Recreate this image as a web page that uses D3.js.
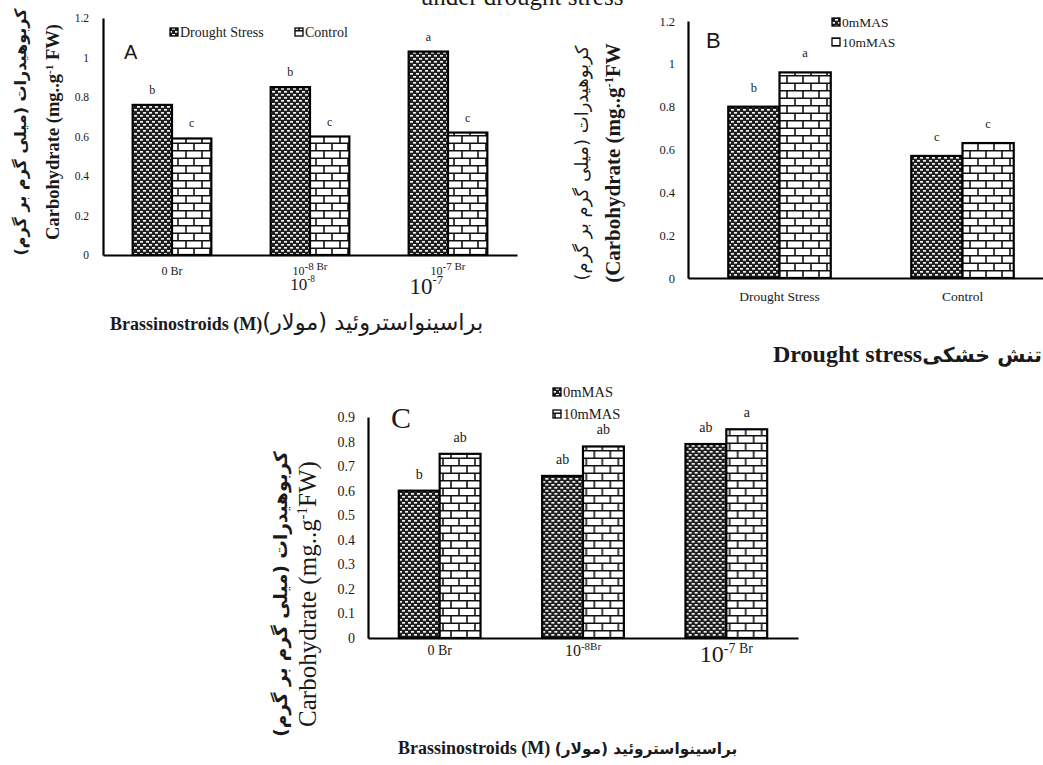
<!DOCTYPE html>
<html>
<head>
<meta charset="utf-8">
<script src="https://cdn.jsdelivr.net/npm/d3@7"></script>
<style>
  body { margin: 0; background: #fff; }
  svg text { font-family: "Liberation Serif", "DejaVu Sans", serif; fill: #1a1a1a; }
</style>
</head>
<body>
<svg id="chart" width="1043" height="765"></svg>
<script>
// ---- data ----
const categoriesA = ['0 Br', '10^-8 Br', '10^-7 Br'];
const seriesA = ['Drought Stress', 'Control'];
const droughtA = [0.76, 0.85, 1.03];
const controlA = [0.59, 0.60, 0.62];
const droughtLettersA = ['b', 'b', 'a'];
const controlLettersA = ['c', 'c', 'c'];
const yTicksA = [0, 0.2, 0.4, 0.6, 0.8, 1, 1.2];

const categoriesB = ['Drought Stress', 'Control'];
const seriesB = ['0mMAS', '10mMAS'];
const as0B = [0.80, 0.57];
const as10B = [0.96, 0.63];
const as0LettersB = ['b', 'c'];
const as10LettersB = ['a', 'c'];
const yTicksB = [0, 0.2, 0.4, 0.6, 0.8, 1, 1.2];

const categoriesC = ['0 Br', '10^-8Br', '10^-7 Br'];
const seriesC = ['0mMAS', '10mMAS'];
const as0C = [0.60, 0.66, 0.79];
const as10C = [0.75, 0.78, 0.85];
const as0LettersC = ['b', 'ab', 'ab'];
const as10LettersC = ['ab', 'ab', 'a'];
const yTicksC = [0, 0.1, 0.2, 0.3, 0.4, 0.5, 0.6, 0.7, 0.8, 0.9];

const PERSIAN_Y = 'کربوهیدرات (میلی گرم بر گرم)';
const PERSIAN_BR = 'براسینواستروئید (مولار)\u200F';

const svg = d3.select('#chart');

setup();

function setup () {
  const defs = svg.append('defs');

  // dark "dotted grid" fill
  const dots = defs.append('pattern').attr('id', 'dots')
    .attr('patternUnits', 'userSpaceOnUse').attr('width', 6).attr('height', 6);
  dots.append('rect').attr('width', 6).attr('height', 6).attr('fill', '#1f1f1f');
  dots.append('rect').attr('x', 1).attr('y', 1).attr('width', 3).attr('height', 1.7).attr('fill', '#f0f0f0');
  dots.append('rect').attr('x', 4).attr('y', 4).attr('width', 2).attr('height', 1.7).attr('fill', '#f0f0f0');
  dots.append('rect').attr('x', 0).attr('y', 4).attr('width', 1).attr('height', 1.7).attr('fill', '#f0f0f0');

  // brick fill
  const brick = defs.append('pattern').attr('id', 'brick')
    .attr('patternUnits', 'userSpaceOnUse').attr('width', 16).attr('height', 15);
  brick.append('rect').attr('width', 16).attr('height', 15).attr('fill', '#fff');
  brick.append('path')
    .attr('d', 'M0,0.8H16M0,8.3H16M3,0V8.3M11,8.3V15')
    .attr('stroke', '#111').attr('stroke-width', 1.6).attr('fill', 'none');

  // cut-off caption at the very top
  svg.append('text').attr('x', 522).attr('y', 5).attr('text-anchor', 'middle')
    .attr('font-size', 25).text('under drought stress');

  drawPanel({
    categories: categoriesA, series: seriesA,
    values: [droughtA, controlA], letters: [droughtLettersA, controlLettersA],
    yMax: 1.2, yTicks: yTicksA, fmt: d3.format('~g'),
    left: 103, right: 517, top: 18, bottom: 255, inset: 0.215,
    tickSize: 11.5, tickPad: 14, letterSize: 12, letterGap: 11,
    xTickPad: 11, xTickSizes: [12, 12, 12]
  });

  drawPanel({
    categories: categoriesB, series: seriesB,
    values: [as0B, as10B], letters: [as0LettersB, as10LettersB],
    yMax: 1.2, yTicks: yTicksB, fmt: d3.format('~g'),
    left: 688, right: 1054, top: 21, bottom: 278, inset: 0.22,
    tickSize: 12.5, tickPad: 13, letterSize: 12.5, letterGap: 15,
    xTickPad: 13, xTickSizes: [13.5, 13.5]
  });

  drawPanel({
    categories: categoriesC, series: seriesC,
    values: [as0C, as10C], letters: [as0LettersC, as10LettersC],
    yMax: 0.9, yTicks: yTicksC, fmt: d3.format('.1f'),
    left: 368, right: 798, top: 417, bottom: 638, inset: 0.215,
    tickSize: 14, tickPad: 13, letterSize: 14, letterGap: 12,
    xTickPad: 7, xTickSizes: [14, 16, 24]
  });

  // C shows its zero tick as plain 0
  svg.selectAll('.panel-2 .y-axis text').filter(d => d === 0).text('0');

  // extra large exponent labels sitting under the A ticks
  const aTicks = svg.selectAll('.panel-0 .x-axis .tick').filter((d, i) => i > 0);
  aTicks.append('text')
    .attr('y', 0).attr('fill', '#1a1a1a')
    .each(function (d, i) {
      const size = i === 0 ? 17 : 23;
      const t = d3.select(this).attr('text-anchor', 'end')
        .attr('x', i === 0 ? 5 : -5).attr('dy', i === 0 ? 35 : 39).attr('font-size', size);
      const exp = d.match(/\^(-\d)/)[1];
      t.append('tspan').text('10');
      t.append('tspan').attr('dy', -size * 0.45).attr('font-size', size * 0.55).text(exp);
    });

  // legends
  legend(170, 28, ['Drought Stress', 'Control'], [0, 125], [0, 0], 14);
  legend(832, 18, seriesB, [0, 0], [0, 20], 13.5);
  legend(553, 388, seriesC, [0, 0], [0, 22], 14.5);

  // panel letters
  svg.append('text').attr('x', 124).attr('y', 59).attr('font-size', 20)
    .style('font-family', 'Liberation Sans, Arial, sans-serif').text('A');
  svg.append('text').attr('x', 706).attr('y', 48).attr('font-size', 22)
    .style('font-family', 'Liberation Sans, Arial, sans-serif').text('B');
  svg.append('text').attr('x', 391).attr('y', 428).attr('font-size', 30).text('C');

  // y titles
  yTitle(20, 132, PERSIAN_Y, 16, 'bold', true);
  yTitle(53, 132, ['Carbohydrate (mg..g', '-1', ' FW)'], 18.5, 'bold', false);
  yTitle(582, 163, PERSIAN_Y, 18, 'normal', true);
  yTitle(613, 163, ['(Carbohydrate (mg..g', '-1', 'FW'], 21, 'bold', false);
  yTitle(281, 594, PERSIAN_Y, 18.5, 'bold', true);
  yTitle(307, 594, ['Carbohydrate  (mg..g', '-1', 'FW)'], 25, 'normal', false);

  // x titles
  xTitle(110, 330, 'Brassinostroids (M)', PERSIAN_BR, 18, 'normal', 22.5);
  xTitle(773, 362, 'Drought stress', 'تنش خشکی', 24, 'bold', 20.4);
  xTitle(398, 754, 'Brassinostroids (M) ', PERSIAN_BR, 18, 'bold', 15.3);
}

function drawPanel (p) {
  const idx = svg.selectAll('g.panel').size();
  const g = svg.append('g').attr('class', `panel panel-${idx}`);

  const x0 = d3.scaleBand().domain(p.categories).range([p.left, p.right]);
  const x1 = d3.scaleBand().domain(p.series)
    .range([x0.bandwidth() * p.inset, x0.bandwidth() * (1 - p.inset)]);
  const y = d3.scaleLinear().domain([0, p.yMax]).range([p.bottom, p.top]);

  const rows = p.categories.map((c, i) => ({
    cat: c,
    vals: p.series.map((s, j) => ({ s: s, j: j, v: p.values[j][i], l: p.letters[j][i] }))
  }));

  const groups = g.selectAll('g.grp').data(rows).join('g')
    .attr('class', 'grp')
    .attr('transform', d => `translate(${x0(d.cat)},0)`);

  groups.selectAll('rect').data(d => d.vals).join('rect')
    .attr('x', d => x1(d.s))
    .attr('width', x1.bandwidth())
    .attr('y', d => y(d.v))
    .attr('height', d => y(0) - y(d.v))
    .attr('fill', d => d.j === 0 ? 'url(#dots)' : 'url(#brick)')
    .attr('stroke', '#000')
    .attr('stroke-width', 2.2);

  groups.selectAll('text.letter').data(d => d.vals).join('text')
    .attr('class', 'letter')
    .attr('x', d => x1(d.s) + x1.bandwidth() / 2)
    .attr('y', d => y(d.v) - p.letterGap)
    .attr('text-anchor', 'middle')
    .attr('font-size', p.letterSize)
    .text(d => d.l);

  // y axis
  const yAxis = d3.axisLeft(y).tickValues(p.yTicks).tickSize(0).tickPadding(p.tickPad).tickFormat(p.fmt);
  const ya = g.append('g').attr('class', 'y-axis')
    .attr('transform', `translate(${p.left},0)`).call(yAxis);
  ya.select('.domain').attr('stroke', '#000').attr('stroke-width', 2.2);
  ya.selectAll('text').attr('font-size', p.tickSize).attr('fill', '#333')
    .style('font-family', 'Liberation Serif, serif');

  // x axis
  const xAxis = d3.axisBottom(x0).tickSize(0).tickPadding(p.xTickPad);
  const xa = g.append('g').attr('class', 'x-axis')
    .attr('transform', `translate(0,${p.bottom})`).call(xAxis);
  xa.select('.domain').attr('stroke', '#000').attr('stroke-width', 2.2);
  xa.selectAll('.tick text').attr('fill', '#1a1a1a')
    .style('font-family', 'Liberation Serif, serif')
    .each(function (d, i) {
      richLabel(d3.select(this), d, p.xTickSizes[i]);
    });
}

// "10^-8 Br" -> 10 with raised -8 and raised Br
function richLabel (t, str, size) {
  t.text(null).attr('font-size', size);
  const m = str.match(/^(.*?)\^(-\d)(.*)$/);
  if (!m) { t.text(str); return; }
  const small = Math.max(11, size * 0.58);
  t.append('tspan').text(m[1]);
  t.append('tspan').attr('dy', -size * 0.38).attr('font-size', small).text(m[2] + m[3]);
}

function legend (x, y, names, dx, dy, size) {
  names.forEach((n, i) => {
    const gx = x + dx[i], gy = y + dy[i];
    svg.append('rect').attr('x', gx).attr('y', gy).attr('width', 8).attr('height', 8)
      .attr('fill', i === 0 ? 'url(#dots)' : 'url(#brick)')
      .attr('stroke', '#000').attr('stroke-width', 1.3);
    svg.append('text').attr('x', gx + 10).attr('y', gy + 9).attr('font-size', size).text(n);
  });
}

function yTitle (x, cy, content, size, weight, rtl) {
  const t = svg.append('text')
    .attr('transform', `translate(${x},${cy}) rotate(-90)`)
    .attr('text-anchor', 'middle').attr('dy', '0.35em')
    .attr('font-size', size).attr('font-weight', weight);
  if (rtl) {
    t.attr('direction', 'rtl').style('font-family', 'DejaVu Sans, sans-serif').text(content);
  } else {
    t.append('tspan').text(content[0]);
    t.append('tspan').attr('dy', -size * 0.35).attr('font-size', size * 0.6).text(content[1]);
    t.append('tspan').attr('dy', size * 0.35).text(content[2]);
  }
}

function xTitle (x, y, english, persian, size, persianWeight, persianSize) {
  const t = svg.append('text').attr('x', x).attr('y', y).attr('font-size', size);
  t.append('tspan').attr('font-weight', 'bold').text(english);
  t.append('tspan').attr('font-weight', persianWeight)
    .style('font-family', 'DejaVu Sans, sans-serif')
    .attr('font-size', persianSize).text(persian);
}
</script>
</body>
</html>
